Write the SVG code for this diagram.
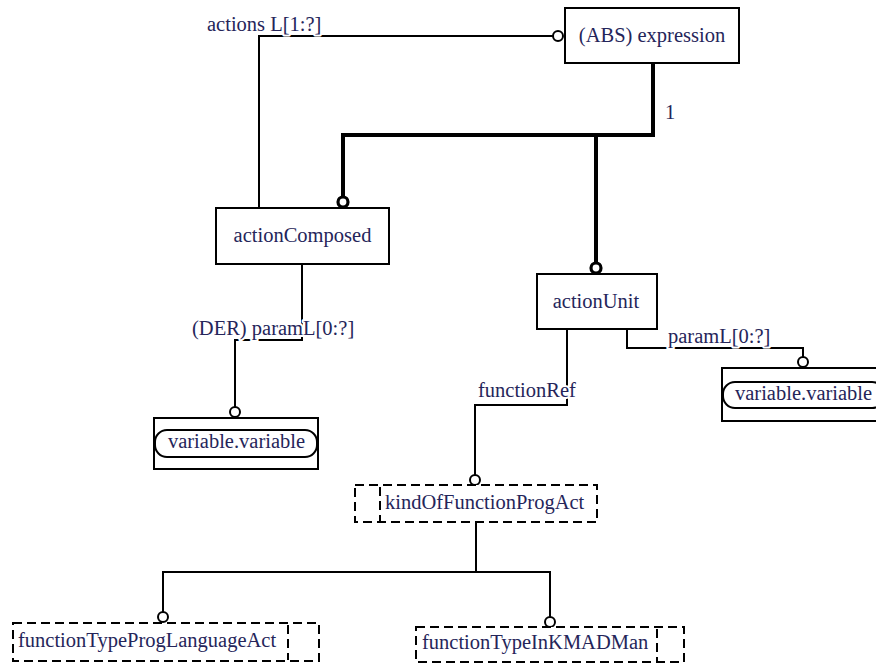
<svg xmlns="http://www.w3.org/2000/svg" width="876" height="664" viewBox="0 0 876 664" font-family="'Liberation Serif', 'DejaVu Serif', serif">
<style>
  text { font-family: "Liberation Serif", "DejaVu Serif", "Times New Roman", serif; font-size: 20.5px; fill: #25255a; }
  .lbl { stroke: #ffffff; stroke-width: 4px; paint-order: stroke; stroke-linejoin: round; }
  .box { fill: #ffffff; stroke: #000000; stroke-width: 2; }
  .dbox { fill: #ffffff; stroke: #000000; stroke-width: 2; stroke-dasharray: 9 5; }
  .dline { fill: none; stroke: #000000; stroke-width: 2; stroke-dasharray: 9 5; }
  .thin { fill: none; stroke: #000000; stroke-width: 2; }
  .thick { fill: none; stroke: #000000; stroke-width: 4; }
  .oc { fill: #ffffff; stroke: #000000; stroke-width: 2; }
  .ocb { fill: #ffffff; stroke: #000000; stroke-width: 3.2; }
</style>

<g id="connectors">
  <polyline class="thin" points="259,208 259,36 553,36"/>
  <circle class="oc" cx="558" cy="36" r="5"/>
  <polyline class="thick" points="653,63 653,135 343,135 343,197"/>
  <line class="thick" x1="596" y1="135" x2="596" y2="263"/>
  <circle class="ocb" cx="343" cy="202" r="5"/>
  <circle class="ocb" cx="596" cy="268" r="5"/>
  <polyline class="thin" points="302,264 302,340 235,340 235,407"/>
  <circle class="oc" cx="235" cy="412" r="5"/>
  <polyline class="thin" points="627,329 627,348 803,348 803,357"/>
  <circle class="oc" cx="803" cy="362" r="5"/>
  <polyline class="thin" points="567,329 567,405 475,405 475,475"/>
  <circle class="oc" cx="475" cy="480" r="5"/>
  <line class="thin" x1="476" y1="522" x2="476" y2="572"/>
  <polyline class="thin" points="163,612 163,572 550,572 550,617"/>
  <circle class="oc" cx="163" cy="617" r="5"/>
  <circle class="oc" cx="550" cy="622" r="5"/>
  <text class="lbl" x="207" y="31" font-family="'Liberation Serif', serif">actions L[1:?]</text>
  <text class="lbl" x="665" y="119" font-family="'Liberation Serif', serif">1</text>
  <text class="lbl" x="192" y="335" font-family="'Liberation Serif', serif">(DER) paramL[0:?]</text>
  <text class="lbl" x="668" y="343" font-family="'Liberation Serif', serif">paramL[0:?]</text>
  <text class="lbl" x="478" y="397" font-family="'Liberation Serif', serif">functionRef</text>
</g>

<g id="expression">
  <rect class="box" x="565" y="8" width="174" height="55"/>
  <text x="652" y="42" text-anchor="middle" font-family="'Liberation Serif', serif">(ABS) expression</text>
</g>

<g id="actionComposed">
  <rect class="box" x="216" y="208" width="173" height="56"/>
  <text x="302.5" y="242" text-anchor="middle" font-family="'Liberation Serif', serif">actionComposed</text>
</g>

<g id="actionUnit">
  <rect class="box" x="537" y="274" width="120" height="55"/>
  <text x="596" y="308" text-anchor="middle" font-family="'Liberation Serif', serif">actionUnit</text>
</g>

<g id="variableLeft">
  <rect class="box" x="154" y="418" width="164" height="51"/>
  <rect class="box" x="155" y="430" width="162" height="27" rx="12" ry="12"/>
  <text x="236.5" y="448" text-anchor="middle" font-family="'Liberation Serif', serif">variable.variable</text>
</g>

<g id="variableRight">
  <rect class="box" x="722" y="368" width="163" height="53"/>
  <rect class="box" x="723" y="382" width="161" height="26" rx="12" ry="12"/>
  <text x="735" y="400" font-family="'Liberation Serif', serif">variable.variable</text>
</g>

<g id="kindOfFunctionProgAct">
  <rect class="dbox" x="355" y="485" width="242" height="37"/>
  <line class="dline" x1="380" y1="487" x2="380" y2="521"/>
  <text x="385" y="509" font-family="'Liberation Serif', serif">kindOfFunctionProgAct</text>
</g>

<g id="functionTypeProgLanguageAct">
  <rect class="dbox" x="13" y="623" width="306" height="38"/>
  <line class="dline" x1="288" y1="625" x2="288" y2="660"/>
  <text x="18" y="647" font-family="'Liberation Serif', serif">functionTypeProgLanguageAct</text>
</g>

<g id="functionTypeInKMADMan">
  <rect class="dbox" x="416" y="627" width="268" height="35"/>
  <line class="dline" x1="657" y1="629" x2="657" y2="661"/>
  <text x="422" y="649" font-family="'Liberation Serif', serif">functionTypeInKMADMan</text>
</g>
</svg>
